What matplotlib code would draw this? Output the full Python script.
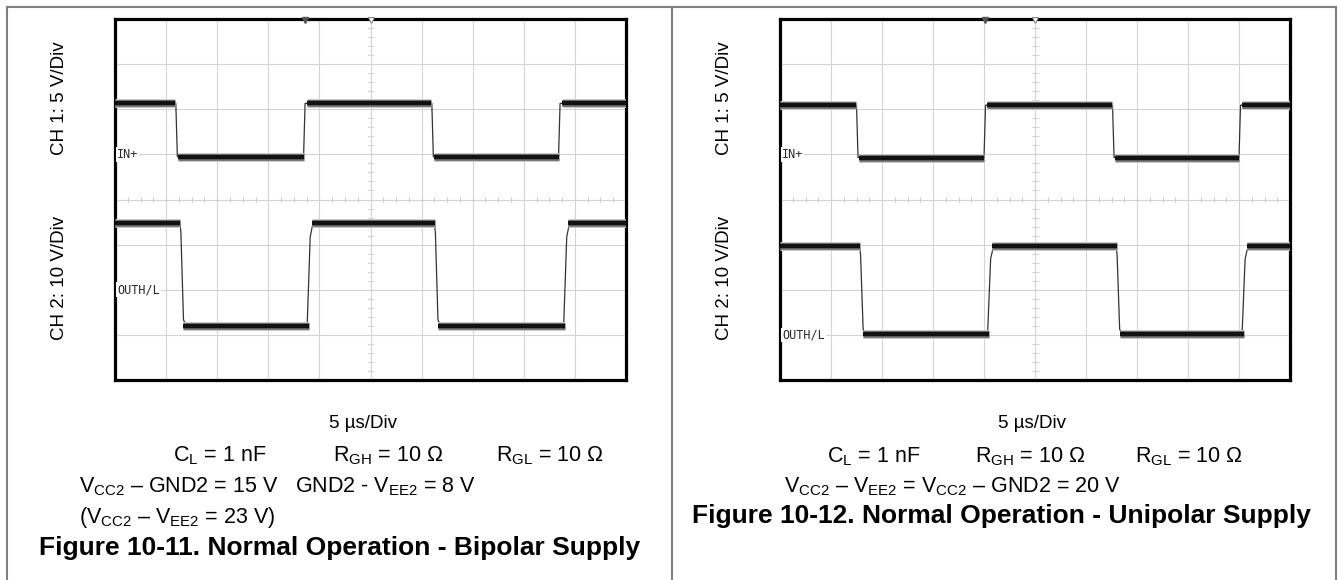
import matplotlib
matplotlib.use('Agg')
import matplotlib.pyplot as plt
from matplotlib.lines import Line2D

plt.rcParams['font.family'] = ['Liberation Sans', 'DejaVu Sans']
plt.rcParams['mathtext.fontset'] = 'custom'
plt.rcParams['mathtext.rm'] = 'Liberation Sans'
plt.rcParams['mathtext.it'] = 'Liberation Sans:italic'
plt.rcParams['mathtext.bf'] = 'Liberation Sans:bold'

W, H = 1338, 580

n_xdiv = 10
n_ydiv = 8

# Figure 10-11, bipolar supply
bip_ch1_edges = [1.20, 3.71, 6.21, 8.70]
bip_ch1_high = 6.13
bip_ch1_low = 4.95
bip_ch2_edges = [1.30, 3.81, 6.28, 8.83]
bip_ch2_high = 3.49
bip_ch2_low = 1.20
bip_ch1_ref = 5.0
bip_ch2_ref = 2.0

# Figure 10-12, unipolar supply
uni_ch1_edges = [1.51, 4.02, 6.53, 9.02]
uni_ch1_high = 6.09
uni_ch1_low = 4.93
uni_ch2_edges = [1.59, 4.12, 6.62, 9.11]
uni_ch2_high = 2.96
uni_ch2_low = 1.01
uni_ch1_ref = 5.0
uni_ch2_ref = 1.0

# edge shapes (offset in div, fraction of the swing)
ch1_fall_dt = [-0.01, 0.02]
ch1_fall_fr = [0.0, 1.0]
ch1_rise_dt = [-0.02, 0.01]
ch1_rise_fr = [0.0, 1.0]
ch2_fall_dt = [-0.03, -0.01, 0.04, 0.09]
ch2_fall_fr = [0.0, 0.10, 0.94, 1.0]
ch2_rise_dt = [-0.05, 0.01, 0.05, 0.14]
ch2_rise_fr = [0.0, 0.86, 0.96, 1.0]


def px(x, y):
    return x / W, 1 - y / H


def waveform(edges, hi, lo, fall_dt, fall_fr, rise_dt, rise_fr):
    t, v = [0.0], [hi]
    for i, e in enumerate(edges):
        if i % 2 == 0:
            a, b, dts, frs = hi, lo, fall_dt, fall_fr
        else:
            a, b, dts, frs = lo, hi, rise_dt, rise_fr
        for d, f in zip(dts, frs):
            t.append(e + d)
            v.append(a + (b - a) * f)
    t.append(n_xdiv)
    v.append(v[-1])
    return t, v


def draw_trace(ax, edges, hi, lo, shapes):
    t, v = waveform(edges, hi, lo, *shapes)
    ax.plot(t, v, color='#333333', lw=0.9, zorder=4)
    # thick noisy band along the flat parts
    bounds = [0.0] + list(edges) + [n_xdiv]
    for i in range(len(bounds) - 1):
        lev = hi if i % 2 == 0 else lo
        x0 = bounds[i] + (0.04 if i > 0 else 0)
        x1 = bounds[i + 1] - (0.02 if i < len(bounds) - 2 else 0)
        for lw, c in [(6.4, '#c8c8c8'), (4.8, '#6a6a6a'), (3.1, '#121212')]:
            ax.plot([x0, x1], [lev, lev], color=c, lw=lw,
                    solid_capstyle='butt', zorder=5)


def scope(ax, ch1, ch2, ref1, ref2, trig):
    ax.set_xlim(0, n_xdiv)
    ax.set_ylim(0, n_ydiv)
    ax.set_xticks([])
    ax.set_yticks([])
    for s in ax.spines.values():
        s.set_linewidth(2.3)
        s.set_color('black')
    grid_c = '#d4d4d4'
    for k in range(1, n_xdiv):
        ax.axvline(k, color=grid_c, lw=0.8, zorder=1)
    for k in range(1, n_ydiv):
        ax.axhline(k, color=grid_c, lw=0.8, zorder=1)
    # minor ticks on the centre cross
    for k in range(1, n_xdiv * 4):
        ax.plot([k / 4, k / 4], [n_ydiv / 2 - 0.05, n_ydiv / 2 + 0.05],
                color=grid_c, lw=0.8, zorder=1)
    for k in range(1, n_ydiv * 5):
        ax.plot([n_xdiv / 2 - 0.05, n_xdiv / 2 + 0.05], [k / 5, k / 5],
                color=grid_c, lw=0.8, zorder=1)

    draw_trace(ax, ch1[0], ch1[1], ch1[2],
               (ch1_fall_dt, ch1_fall_fr, ch1_rise_dt, ch1_rise_fr))
    draw_trace(ax, ch2[0], ch2[1], ch2[2],
               (ch2_fall_dt, ch2_fall_fr, ch2_rise_dt, ch2_rise_fr))

    lab = dict(fontsize=8.5, family='DejaVu Sans Mono', color='#2a2a2a',
               ha='left', va='center', zorder=3,
               bbox=dict(facecolor='white', edgecolor='none', pad=0.6))
    ax.text(0.04, ref1, 'IN+', **lab)
    ax.text(0.04, ref2, 'OUTH/L', **lab)

    ax.plot([trig], [n_ydiv - 0.03], marker='v', ms=5, color='#555555',
            clip_on=False, zorder=6)
    ax.plot([n_xdiv / 2], [n_ydiv - 0.03], marker='v', ms=5, mfc='white',
            mec='#888888', mew=0.8, clip_on=False, zorder=6)


fig = plt.figure(figsize=(W / 100, H / 100), dpi=100)

ax1 = fig.add_axes([115 / W, 1 - 380 / H, 511 / W, 361 / H])
scope(ax1, (bip_ch1_edges, bip_ch1_high, bip_ch1_low),
      (bip_ch2_edges, bip_ch2_high, bip_ch2_low),
      bip_ch1_ref, bip_ch2_ref, bip_ch1_edges[1])

ax2 = fig.add_axes([780 / W, 1 - 380 / H, 510 / W, 361 / H])
scope(ax2, (uni_ch1_edges, uni_ch1_high, uni_ch1_low),
      (uni_ch2_edges, uni_ch2_high, uni_ch2_low),
      uni_ch1_ref, uni_ch2_ref, uni_ch1_edges[1])

# outer table frame
frame_c = '#7f7f7f'
for xs, ys in [([7, 1336], [6.5, 6.5]), ([7, 7], [6.5, 580]),
               ([672, 672], [6.5, 580]), ([1336, 1336], [6.5, 580])]:
    fig.add_artist(Line2D([x / W for x in xs], [1 - y / H for y in ys],
                          color=frame_c, lw=1.5, transform=fig.transFigure))

# channel labels
for xc in (60, 724):
    fig.text(*px(xc, 98), 'CH 1: 5 V/Div', rotation=90, fontsize=13.5,
             ha='center', va='center')
    fig.text(*px(xc, 278), 'CH 2: 10 V/Div', rotation=90, fontsize=13.5,
             ha='center', va='center')

body = 15.5

# captions, left
fig.text(*px(363, 423), '5 µs/Div', fontsize=13.5, ha='center', va='center')
fig.text(*px(173, 456), r'C$_{\rm L}$ = 1 nF', fontsize=body, va='center')
fig.text(*px(333, 456), r'R$_{\rm GH}$ = 10 Ω', fontsize=body, va='center')
fig.text(*px(496, 456), r'R$_{\rm GL}$ = 10 Ω', fontsize=body, va='center')
fig.text(*px(79, 487), r'V$_{\rm CC2}$ – GND2 = 15 V', fontsize=body,
         va='center')
fig.text(*px(476, 487), r'GND2 - V$_{\rm EE2}$ = 8 V', fontsize=body,
         ha='right', va='center')
fig.text(*px(79, 517), r'(V$_{\rm CC2}$ – V$_{\rm EE2}$ = 23 V)',
         fontsize=body, va='center')
fig.text(*px(340, 548), 'Figure 10-11. Normal Operation - Bipolar Supply',
         fontsize=19, fontweight='bold', ha='center', va='center')

# captions, right
fig.text(*px(1032, 423), '5 µs/Div', fontsize=13.5, ha='center', va='center')
fig.text(*px(827, 457), r'C$_{\rm L}$ = 1 nF', fontsize=body, va='center')
fig.text(*px(975, 457), r'R$_{\rm GH}$ = 10 Ω', fontsize=body, va='center')
fig.text(*px(1135, 457), r'R$_{\rm GL}$ = 10 Ω', fontsize=body, va='center')
fig.text(*px(784, 487),
         r'V$_{\rm CC2}$ – V$_{\rm EE2}$ = V$_{\rm CC2}$ – GND2 = 20 V',
         fontsize=body, va='center')
fig.text(*px(1001, 516), 'Figure 10-12. Normal Operation - Unipolar Supply',
         fontsize=19, fontweight='bold', ha='center', va='center')

fig.savefig('out.png', dpi=100)
plt.close(fig)
